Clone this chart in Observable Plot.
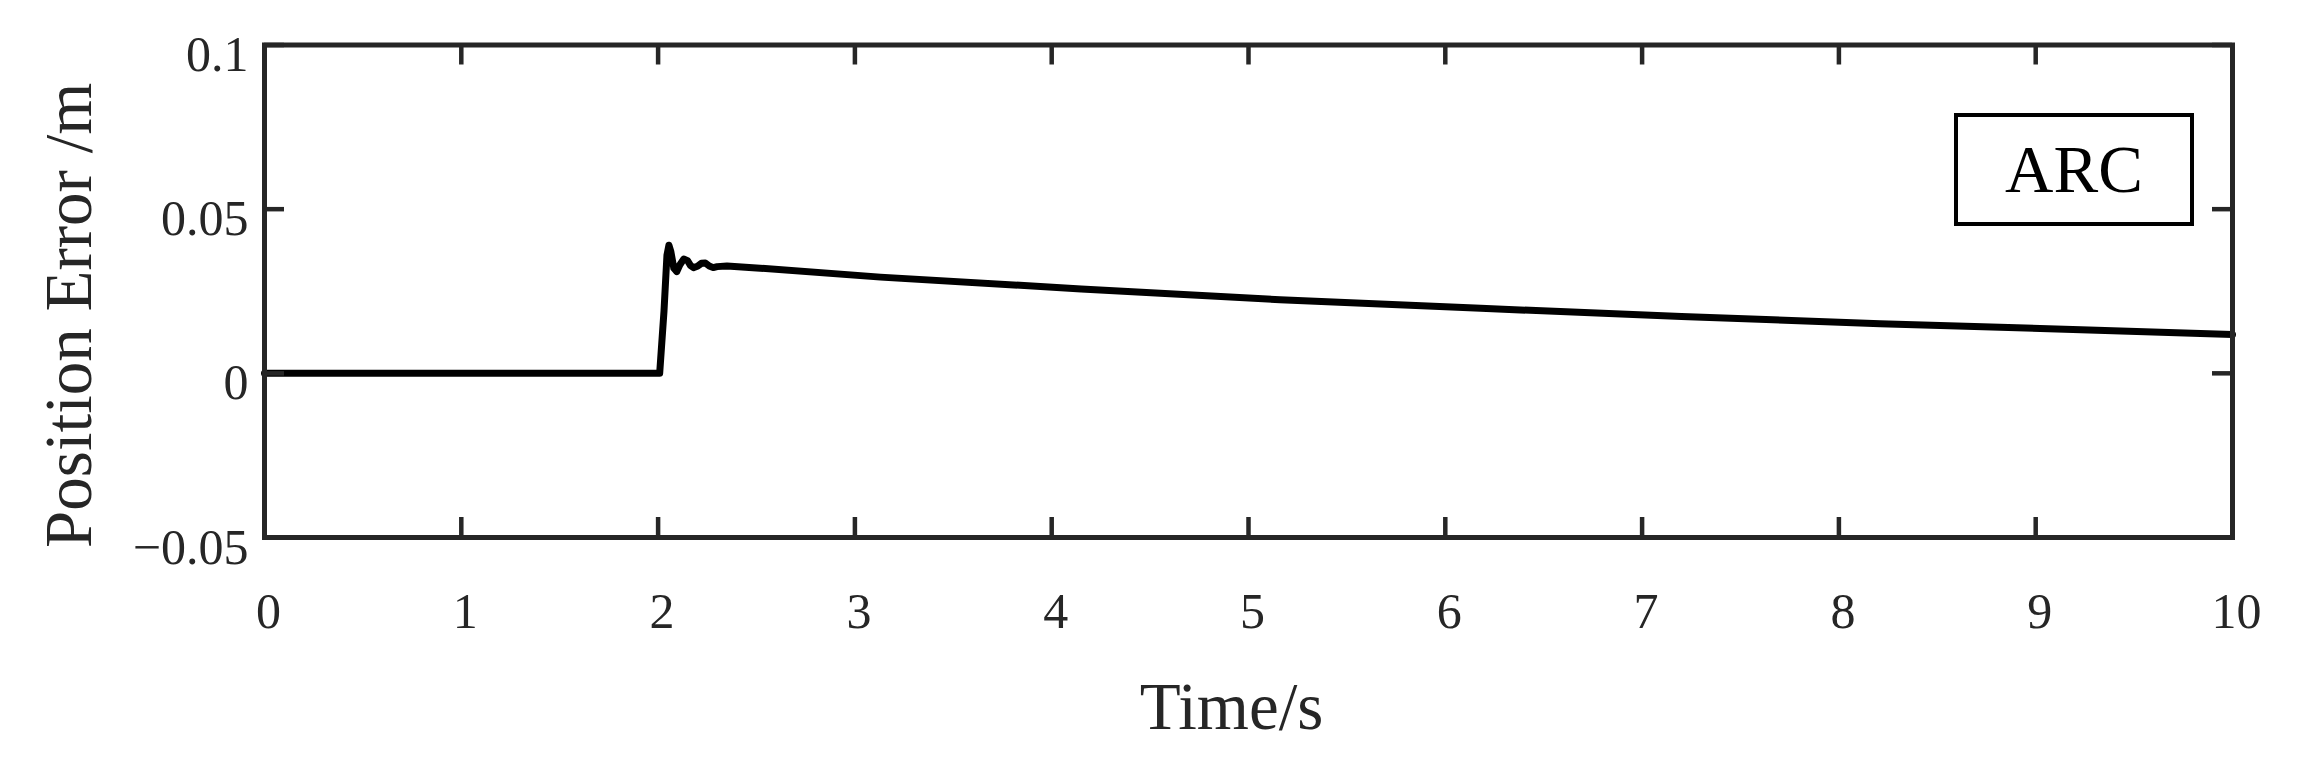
<!DOCTYPE html>
<html><head><meta charset="utf-8">
<script src="https://cdn.jsdelivr.net/npm/d3@7"></script>
<script src="https://cdn.jsdelivr.net/npm/@observablehq/plot@0.6"></script>
<style>
html,body{margin:0;padding:0;background:#fff;}
#wrap{position:relative;width:2299px;height:761px;}
#legend{position:absolute;left:1954px;top:113px;width:240px;height:113px;box-sizing:border-box;border:4px solid #000;font-family:"Liberation Serif",serif;font-size:67px;display:flex;align-items:center;justify-content:center;color:#000;background:#fff;}
</style></head><body>
<div id="wrap"></div>
<script>
const time  = [0, 2.0, 2.008, 2.03, 2.045, 2.055, 2.065, 2.08, 2.095, 2.11, 2.13, 2.15, 2.165, 2.18, 2.2, 2.22, 2.24, 2.26, 2.28, 2.3, 2.35, 2.5, 3.13, 4.15, 5.16, 6.18, 7.2, 8.21, 9.23, 10];
const error = [0, 0, 0, 0.019, 0.036, 0.039, 0.037, 0.032, 0.031, 0.033, 0.0348, 0.0343, 0.0328, 0.0322, 0.0326, 0.0335, 0.0336, 0.0327, 0.0322, 0.0325, 0.0327, 0.0321, 0.0293, 0.0257, 0.0224, 0.0198, 0.0173, 0.0151, 0.0133, 0.0118];
const xTicks = [0, 1, 2, 3, 4, 5, 6, 7, 8, 9, 10];
const yTicks = [-0.05, 0, 0.05, 0.1];
const yTickLabels = ["\u22120.05", "0", "0.05", "0.1"];
const xLabel = "Time/s";
const yLabel = "Position Error /m";
const seriesName = "ARC";

const data = time.map((t, i) => ({t, e: error[i]}));
const W = 2299, H = 761;
const mL = 264, mR = 67, mT = 44.5, mB = 224;
const plotH = H - mT - mB, plotW = W - mL - mR;
const tickLen = 20;
const axisColor = "#262626";

const chart = Plot.plot({
  width: W, height: H,
  marginLeft: mL, marginRight: mR, marginTop: mT, marginBottom: mB,
  style: {fontFamily: "'Liberation Serif', serif", fontSize: "50px", color: axisColor, background: "#fff"},
  x: {domain: [0, 10]},
  y: {domain: [-0.05, 0.1]},
  marks: [
    Plot.line(data, {x: "t", y: "e", stroke: "#000", strokeWidth: 7, strokeLinecap: "round", strokeLinejoin: "round"}),
    Plot.ruleX(xTicks, {x: d => d, insetTop: plotH - tickLen, stroke: axisColor, strokeWidth: 4.5}),
    Plot.ruleX(xTicks, {x: d => d, insetBottom: plotH - tickLen, stroke: axisColor, strokeWidth: 4.5}),
    Plot.ruleY(yTicks, {y: d => d, insetRight: plotW - tickLen, stroke: axisColor, strokeWidth: 4.5}),
    Plot.ruleY(yTicks, {y: d => d, insetLeft: plotW - tickLen, stroke: axisColor, strokeWidth: 4.5}),
    Plot.frame({stroke: axisColor, strokeWidth: 5}),
    Plot.axisX(xTicks, {anchor: "bottom", tickSize: 0, tickPadding: 55, dx: 4, label: null, fontSize: 50, tickFormat: d => String(d), fill: axisColor}),
    Plot.axisY(yTicks, {anchor: "left", tickSize: 0, tickPadding: 16, dy: 10, label: null, fontSize: 50, tickFormat: d => yTickLabels[yTicks.indexOf(d)], fill: axisColor}),
    Plot.text([xLabel], {text: d => d, frameAnchor: "bottom", textAnchor: "middle", lineAnchor: "bottom", dy: 191, dx: -17, fontSize: 67, fill: axisColor}),
    Plot.text([yLabel], {text: d => d, frameAnchor: "left", textAnchor: "middle", lineAnchor: "bottom", rotate: -90, dx: -174, dy: 24, fontSize: 67, fill: axisColor})
  ]
});
const wrap = document.getElementById("wrap");
wrap.appendChild(chart);
const lg = document.createElement("div");
lg.id = "legend";
lg.textContent = seriesName;
wrap.appendChild(lg);
</script>
</body></html>
